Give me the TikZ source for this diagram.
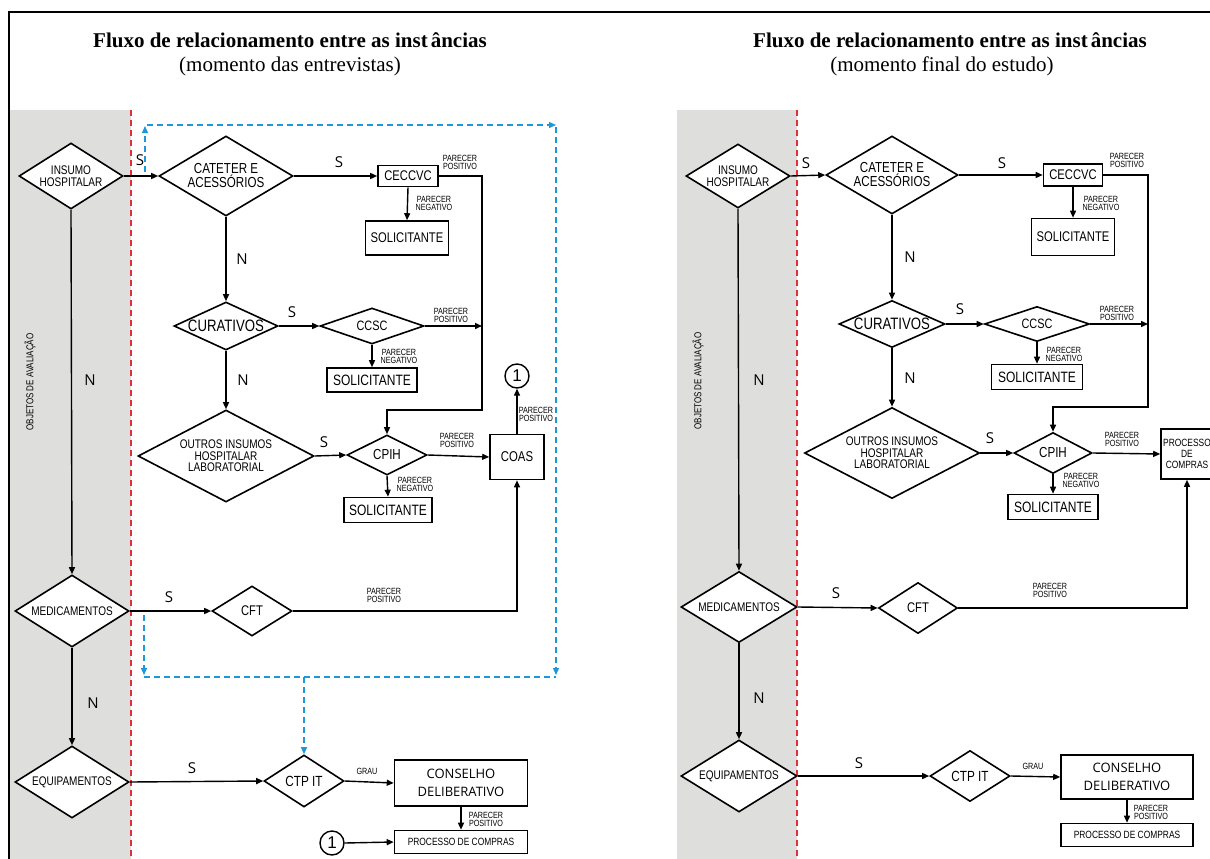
\documentclass[tikz,border=0pt]{standalone}
\usepackage{fontspec}
\setmainfont{Liberation Serif}
\newfontfamily\narrowfont[FakeStretch=0.8]{Liberation Sans}
\newfontfamily\plainsans{Liberation Sans}
\newfontfamily\opensans{Open Sans}
\usepackage{tikz}
\usetikzlibrary{shapes}
\usetikzlibrary{calc}
\usetikzlibrary{arrows.meta}
\definecolor{bandgray}{RGB}{222,222,220}
\definecolor{lanered}{RGB}{222,48,58}
\definecolor{loopblue}{RGB}{30,150,215}
\newcommand{\nsize}[2]{\narrowfont\fontsize{#1pt}{#2pt}\selectfont}
\tikzset{band/.style={fill=bandgray, draw=none}}
\tikzset{lane/.style={draw=lanered, line width=1.2pt, dash pattern=on 6pt off 4pt}}
\tikzset{choice/.style n args={3}{draw, shape=diamond, line width=1.6pt, fill=white, inner sep=0pt, minimum width=#1, minimum height=#2, aspect=#3, align=center}}
\tikzset{board/.style 2 args={draw, rectangle, line width=1.6pt, fill=white, inner sep=0pt, minimum width=#1, minimum height=#2, align=center}}
\tikzset{flow/.style={line width=1.4pt, -{Triangle[length=7pt,width=6pt]}}}
\tikzset{feedback/.style={draw=loopblue, line width=1.3pt, dash pattern=on 6pt off 4pt, -{Triangle[length=7pt,width=6pt]}}}
\tikzset{answer/.style={font=\opensans\fontsize{15pt}{15pt}\selectfont, inner sep=0pt}}
\tikzset{remark/.style={font=\nsize{9}{8}, align=center, inner sep=0pt}}

\begin{document}
\begin{tikzpicture}[x=1pt, y=-1pt]
	\useasboundingbox (0,0) rectangle (1210,859);

	% Frame and lanes
	\draw[line width=2.6pt] (8,12) -- (1210,12);
	\draw[line width=2.6pt] (9,12) -- (9,859);
	\fill[band] (10,110) rectangle (131,859);
	\fill[band] (677,110) rectangle (797,859);
	\draw[lane] (131,110) -- (131,859);
	\draw[lane] (797,110) -- (797,859);

	% Titles
	\node[font=\bfseries\fontsize{21pt}{24pt}\selectfont] (title) at (290,40) {Fluxo de relacionamento entre as inst\kern3pt âncias};
	\node[font=\fontsize{21pt}{24pt}\selectfont] (subtitle) at (290,66) {(momento das entrevistas)};
	\node[font=\bfseries\fontsize{21pt}{24pt}\selectfont] (rhs title) at (950,40) {Fluxo de relacionamento entre as inst\kern3pt âncias};
	\node[font=\fontsize{21pt}{24pt}\selectfont] (rhs subtitle) at (942,66) {(momento final do estudo)};

	\node[rotate=90, font=\nsize{10}{10}] (objetos) at (30,382) {OBJETOS DE AVALIAÇÃO};
	\node[rotate=90, font=\nsize{10}{10}] (rhs objetos) at (698,381) {OBJETOS DE AVALIAÇÃO};

	% LHS
	\node[choice={104}{66}{1.58}, font=\nsize{12.5}{12.5}] (insumo) at (71,176) {INSUMO\\HOSPITALAR};
	\node[choice={134}{80}{1.67}, font=\nsize{14.5}{14}] (cateter) at (226,176) {CATETER E\\ACESSÓRIOS};
	\node[board={60}{21}, font=\nsize{14}{14}] (ceccvc) at (408,176) {CECCVC};
	\node[board={83}{34}, font=\nsize{14}{14}] (sol1) at (407,238) {SOLICITANTE};
	\node[choice={104}{48}{2.17}, font=\nsize{16.5}{16}] (curativos) at (226,326) {CURATIVOS};
	\node[choice={104}{36}{2.9}, font=\nsize{13.6}{13}] (ccsc) at (372,326) {CCSC};
	\node[board={90}{24}, font=\nsize{15}{15}] (sol2) at (372,380) {SOLICITANTE};
	\node[choice={176}{92}{1.91}, font=\nsize{12.5}{11.5}] (outros) at (226,456) {OUTROS INSUMOS\\HOSPITALAR\\LABORATORIAL};
	\node[choice={80}{40}{2}, font=\nsize{14.5}{14}] (cpih) at (387,455) {CPIH};
	\node[board={88}{25}, font=\nsize{15}{15}] (sol3) at (388,510) {SOLICITANTE};
	\node[board={54}{45}, font=\nsize{14.2}{14}] (coas) at (517,457) {COAS};
	\node[draw, circle, line width=1.4pt, minimum size=24, inner sep=0pt, font=\plainsans\fontsize{17pt}{17pt}\selectfont] (one) at (517,376) {1};
	\node[choice={114}{72}{1.58}, font=\nsize{12.5}{12.5}] (medicamentos) at (72,611) {MEDICAMENTOS};
	\node[choice={80}{50}{1.6}, font=\nsize{14}{14}] (cft) at (252,611) {CFT};
	\node[choice={114}{72}{1.58}, font=\nsize{12.5}{12.5}] (equipamentos) at (72,782) {EQUIPAMENTOS};
	\node[choice={80}{52}{1.54}, font=\nsize{14.7}{14}] (ctpit) at (304,781) {CTP IT};
	\node[board={133}{46}, font=\opensans\fontsize{13pt}{18pt}\selectfont] (conselho) at (461,783) {CONSELHO\\DELIBERATIVO};
	\node[board={133}{23}, font=\nsize{10.5}{10}] (compras) at (461,842) {PROCESSO DE COMPRAS};
	\node[draw, circle, line width=1.4pt, minimum size=24, inner sep=0pt, font=\plainsans\fontsize{17pt}{17pt}\selectfont] (two) at (332,843) {1};

	% labels
	\node[answer] (s insumo) at (140,160) {S};
	\node[answer] (n insumo) at (90,380) {N};
	\node[answer] (n medicamentos) at (93,703) {N};
	\node[answer] (s cateter) at (339,162) {S};
	\node[answer] (n cateter) at (242,259) {N};
	\node[answer] (s curativos) at (292,312) {S};
	\node[answer] (n curativos) at (243,380) {N};
	\node[answer] (s outros) at (324,442) {S};
	\node[answer] (s medicamentos) at (169,597) {S};
	\node[answer] (s equipamentos) at (192,768) {S};
	\node[remark] (pp ceccvc) at (460,162) {PARECER\\POSITIVO};
	\node[remark] (pn ceccvc) at (434,203) {PARECER\\NEGATIVO};
	\node[remark] (pp ccsc) at (451,315) {PARECER\\POSITIVO};
	\node[remark] (pn ccsc) at (399,356) {PARECER\\NEGATIVO};
	\node[remark] (pp cpih) at (457,440) {PARECER\\POSITIVO};
	\node[remark] (pn cpih) at (415,484) {PARECER\\NEGATIVO};
	\node[remark] (pp coas) at (536,414) {PARECER\\POSITIVO};
	\node[remark] (pp cft) at (384,595) {PARECER\\POSITIVO};
	\node[remark] (pp conselho) at (486,819) {PARECER\\POSITIVO};
	\node[remark] (grau) at (367,771) {GRAU};

	\coordinate (ceccvc out) at (482,176);
	\coordinate (ceccvc down) at (482,410);
	\coordinate (ccsc in) at (482,326);

	% Horizontals
	\draw[flow] (insumo.east) -- (cateter.west);
	\draw[flow] (cateter.east) -- (ceccvc.west);
	\draw[flow] (curativos.east) -- (ccsc.west);
	\draw[flow] (ccsc.east) -- (ccsc in);
	\draw[flow] (outros.east) -- (cpih.west);
	\draw[flow] (cpih.east) -- (coas.west);
	\draw[flow] (medicamentos.east) -- (cft.west);
	\draw[flow] (cft.east) -- (cft.east -| coas.south) -- (coas.south);
	\draw[flow] (equipamentos.east) -- (ctpit.west);
	\draw[flow] (ctpit.east) -- (conselho.west);
	\draw[flow] (two.east) -- (compras.west);

	% Verticals
	\draw[flow] (insumo.south) -- (medicamentos.north);
	\draw[flow] (medicamentos.south) -- (equipamentos.north);
	\draw[flow] (cateter.south) -- (curativos.north);
	\draw[flow] (curativos.south) -- (outros.north);
	\draw[flow] (ceccvc.south) -- (sol1.north);
	\draw[flow] (ccsc.south) -- (sol2.north);
	\draw[flow] (cpih.south) -- (sol3.north);
	\draw[flow] (coas.north) -- (one.south);
	\draw[flow] (conselho.south) -- (compras.north);
	\draw[flow] (ceccvc.east) -- (ceccvc out) -- (ceccvc down) -- (ceccvc down -| cpih.north) -- (cpih.north);

	% feedback (dashed)
	\coordinate (loop sw) at (145,172);
	\coordinate (loop nw) at (145,126);
	\coordinate (loop top) at (147,125);
	\coordinate (loop ne) at (556,125);
	\coordinate (loop right) at (556,127);
	\coordinate (loop se) at (556,675);
	\coordinate (loop low) at (144,615);
	\coordinate (loop bl) at (144,675);
	\coordinate (loop bottom left) at (144,677);
	\coordinate (loop bottom right) at (556,677);
	\coordinate (loop drop) at (304,677);
	\draw[feedback] (loop sw) -- (loop nw);
	\draw[feedback] (loop top) -- (loop ne);
	\draw[feedback] (loop right) -- (loop se);
	\draw[feedback] (loop low) -- (loop bl);
	\draw[feedback, -] (loop bottom left) -- (loop bottom right);
	\draw[feedback] (loop drop) -- (ctpit.north);

	% RHS
	\node[choice={104}{64}{1.6}, font=\nsize{12.5}{12.5}] (rhs insumo) at (738,176) {INSUMO\\HOSPITALAR};
	\node[choice={132}{78}{1.69}, font=\nsize{14.5}{14}] (rhs cateter) at (892,175) {CATETER E\\ACESSÓRIOS};
	\node[board={59}{22}, font=\nsize{14}{14}] (rhs ceccvc) at (1073,175) {CECCVC};
	\node[board={83}{37}, font=\nsize{14}{14}] (rhs sol1) at (1073,237) {SOLICITANTE};
	\node[choice={106}{47}{2.2}, font=\nsize{16.5}{16}] (rhs curativos) at (892,324) {CURATIVOS};
	\node[choice={105}{35}{3}, font=\nsize{13.6}{13}] (rhs ccsc) at (1037,324) {CCSC};
	\node[board={91}{25}, font=\nsize{15}{15}] (rhs sol2) at (1037,377) {SOLICITANTE};
	\node[choice={175}{91}{1.92}, font=\nsize{12.5}{11.5}] (rhs outros) at (892,453) {OUTROS INSUMOS\\HOSPITALAR\\LABORATORIAL};
	\node[choice={78}{41}{1.9}, font=\nsize{14.5}{14}] (rhs cpih) at (1053,453) {CPIH};
	\node[board={90}{25}, font=\nsize{15}{15}] (rhs sol3) at (1053,507) {SOLICITANTE};
	\node[board={52}{50}, font=\nsize{10.5}{11}] (rhs processo) at (1187,454) {PROCESSO\\DE\\COMPRAS};
	\node[choice={116}{71}{1.63}, font=\nsize{12.5}{12.5}] (rhs medicamentos) at (739,607) {MEDICAMENTOS};
	\node[choice={79}{51}{1.55}, font=\nsize{14}{14}] (rhs cft) at (918,608) {CFT};
	\node[choice={116}{72}{1.61}, font=\nsize{12.5}{12.5}] (rhs equipamentos) at (739,776) {EQUIPAMENTOS};
	\node[choice={80}{51}{1.57}, font=\nsize{14.7}{14}] (rhs ctpit) at (970,776) {CTP IT};
	\node[board={132}{44}, font=\opensans\fontsize{13pt}{18pt}\selectfont] (rhs conselho) at (1127,777) {CONSELHO\\DELIBERATIVO};
	\node[board={132}{23}, font=\nsize{10.5}{10}] (rhs compras) at (1127,835) {PROCESSO DE COMPRAS};

	% labels
	\node[answer] (rhs s insumo) at (806,163) {S};
	\node[answer] (rhs n insumo) at (759,380) {N};
	\node[answer] (rhs n medicamentos) at (759,698) {N};
	\node[answer] (rhs s cateter) at (1002,163) {S};
	\node[answer] (rhs n cateter) at (910,257) {N};
	\node[answer] (rhs s curativos) at (960,309) {S};
	\node[answer] (rhs n curativos) at (910,378) {N};
	\node[answer] (rhs s outros) at (990,438) {S};
	\node[answer] (rhs s medicamentos) at (836,593) {S};
	\node[answer] (rhs s equipamentos) at (859,763) {S};
	\node[remark] (rhs pp ceccvc) at (1127,160) {PARECER\\POSITIVO};
	\node[remark] (rhs pn ceccvc) at (1101,203) {PARECER\\NEGATIVO};
	\node[remark] (rhs pp ccsc) at (1117,313) {PARECER\\POSITIVO};
	\node[remark] (rhs pn ccsc) at (1064,354) {PARECER\\NEGATIVO};
	\node[remark] (rhs pp cpih) at (1122,439) {PARECER\\POSITIVO};
	\node[remark] (rhs pn cpih) at (1081,480) {PARECER\\NEGATIVO};
	\node[remark] (rhs pp cft) at (1050,590) {PARECER\\POSITIVO};
	\node[remark] (rhs pp conselho) at (1151,812) {PARECER\\POSITIVO};
	\node[remark] (rhs grau) at (1033,766) {GRAU};

	\coordinate (rhs ceccvc out) at (1148,175);
	\coordinate (rhs ceccvc down) at (1148,407);
	\coordinate (rhs ccsc in) at (1148,324);

	% Horizontals
	\draw[flow] (rhs insumo.east) -- (rhs cateter.west);
	\draw[flow] (rhs cateter.east) -- (rhs ceccvc.west);
	\draw[flow] (rhs curativos.east) -- (rhs ccsc.west);
	\draw[flow] (rhs ccsc.east) -- (rhs ccsc in);
	\draw[flow] (rhs outros.east) -- (rhs cpih.west);
	\draw[flow] (rhs cpih.east) -- (rhs processo.west);
	\draw[flow] (rhs medicamentos.east) -- (rhs cft.west);
	\draw[flow] (rhs cft.east) -- (rhs cft.east -| rhs processo.south) -- (rhs processo.south);
	\draw[flow] (rhs equipamentos.east) -- (rhs ctpit.west);
	\draw[flow] (rhs ctpit.east) -- (rhs conselho.west);

	% Verticals
	\draw[flow] (rhs insumo.south) -- (rhs medicamentos.north);
	\draw[flow] (rhs medicamentos.south) -- (rhs equipamentos.north);
	\draw[flow] (rhs cateter.south) -- (rhs curativos.north);
	\draw[flow] (rhs curativos.south) -- (rhs outros.north);
	\draw[flow] (rhs ceccvc.south) -- (rhs sol1.north);
	\draw[flow] (rhs ccsc.south) -- (rhs sol2.north);
	\draw[flow] (rhs cpih.south) -- (rhs sol3.north);
	\draw[flow] (rhs conselho.south) -- (rhs compras.north);
	\draw[flow] (rhs ceccvc.east) -- (rhs ceccvc out) -- (rhs ceccvc down) -- (rhs ceccvc down -| rhs cpih.north) -- (rhs cpih.north);
\end{tikzpicture}
\end{document}
